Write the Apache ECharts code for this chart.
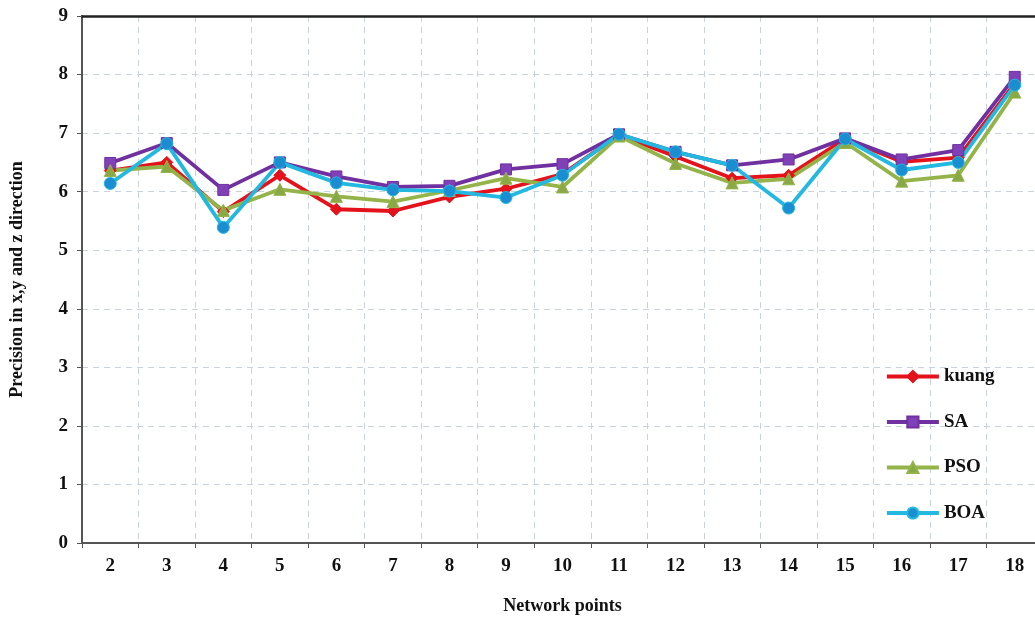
<!DOCTYPE html>
<html>
<head>
<meta charset="utf-8">
<script src="https://cdn.jsdelivr.net/npm/echarts@6/dist/echarts.min.js"></script>
<style>
html,body{margin:0;padding:0;background:#fff;}
#chart{width:1035px;height:624px;}
</style>
</head>
<body>
<div id="chart"></div>
<script>
const categories = ['2','3','4','5','6','7','8','9','10','11','12','13','14','15','16','17','18'];
const kuang = [6.36, 6.50, 5.66, 6.28, 5.70, 5.67, 5.91, 6.05, 6.30, 6.97, 6.60, 6.23, 6.28, 6.90, 6.51, 6.58, 7.85];
const SA    = [6.49, 6.83, 6.03, 6.50, 6.26, 6.08, 6.10, 6.38, 6.47, 6.98, 6.68, 6.45, 6.55, 6.91, 6.55, 6.71, 7.96];
const PSO   = [6.36, 6.43, 5.68, 6.04, 5.92, 5.83, 6.02, 6.23, 6.08, 6.95, 6.48, 6.15, 6.22, 6.84, 6.18, 6.28, 7.70];
const BOA   = [6.14, 6.82, 5.39, 6.50, 6.15, 6.03, 6.01, 5.90, 6.28, 6.98, 6.68, 6.45, 5.72, 6.90, 6.37, 6.50, 7.82];
const yTicks = [0,1,2,3,4,5,6,7,8,9];

const font = '"Liberation Serif","Times New Roman",serif';
const gridLine = {show:true, lineStyle:{color:'#c9d3de', type:[6,5], width:1}};

function mk(name, data, color, mcolor, symbol, size){
  return {
    name, type:'line', data, symbol, symbolSize:size,
    lineStyle:{color, width:3.8},
    itemStyle:{color:mcolor, borderColor:color, borderWidth:1},
    z: 3
  };
}

const chart = echarts.init(document.getElementById('chart'));
chart.setOption({
  animation:false,
  backgroundColor:'#fff',
  grid:{left:82, top:16, height:527, width:961, containLabel:false, outerBoundsMode:'none'},
  legend:{
    orient:'vertical', left:880, top:362,
    itemWidth:52, itemHeight:14, itemGap:26.5,
    lineStyle:{width:3.8},
    textStyle:{fontFamily:font, fontWeight:'bold', fontSize:19, color:'#111'},
    data:['kuang','SA','PSO','BOA']
  },
  xAxis:[{
    type:'category', data:categories, boundaryGap:true,
    axisLine:{lineStyle:{color:'#555', width:2}},
    axisTick:{show:true, alignWithLabel:false, length:5, lineStyle:{color:'#555'}},
    axisLabel:{fontFamily:font, fontWeight:'bold', fontSize:19, color:'#111', margin:14},
    splitLine:gridLine,
    name:'Network points', nameLocation:'middle', nameGap:54,
    nameTextStyle:{fontFamily:font, fontWeight:'bold', fontSize:18, color:'#111'}
  },{
    type:'category', data:categories, position:'top',
    axisLine:{lineStyle:{color:'#222', width:2.5}},
    axisTick:{show:false}, axisLabel:{show:false}, splitLine:{show:false}
  }],
  yAxis:{
    type:'value', min:0, max:9, interval:1,
    axisLine:{show:true, lineStyle:{color:'#555', width:2}},
    axisTick:{show:true, length:5, lineStyle:{color:'#555'}},
    axisLabel:{fontFamily:font, fontWeight:'bold', fontSize:19, color:'#111', margin:14,
      formatter:v=>yTicks.includes(v)?String(v):''},
    splitLine:gridLine,
    name:'Precision in x,y and z direction', nameLocation:'middle', nameGap:56,
    nameTextStyle:{fontFamily:font, fontWeight:'bold', fontSize:18, color:'#111'}
  },
  series:[
    mk('kuang', kuang, '#e3121b', '#e3121b', 'diamond', 12),
    mk('SA', SA, '#7030a0', '#8040b8', 'rect', 11),
    mk('PSO', PSO, '#94b44a', '#8aa845', 'triangle', 12),
    mk('BOA', BOA, '#22b8e0', '#1a8ed0', 'circle', 12)
  ]
});
</script>
</body>
</html>
